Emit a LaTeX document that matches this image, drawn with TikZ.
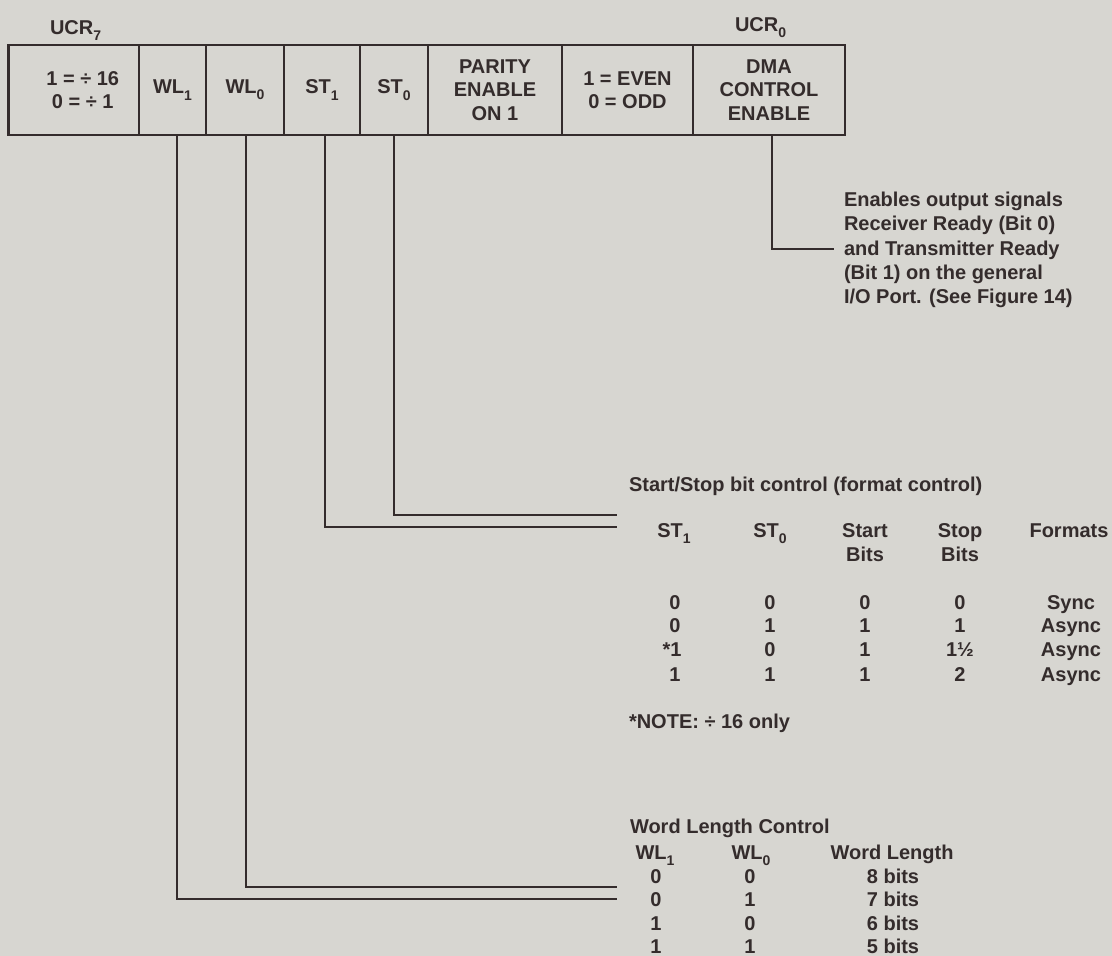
\documentclass[tikz,border=0pt]{standalone}
\usepackage{fontspec}
\setmainfont{Liberation Sans}
\definecolor{bg}{RGB}{215,214,209}
\definecolor{ink}{RGB}{52,44,44}
\newcommand\sbs[1]{\raisebox{-0.6ex}{\fontsize{14}{14}\selectfont #1}}
\begin{document}
\begin{tikzpicture}[x=1pt,y=-1pt,
  every node/.style={text=ink, inner sep=0pt, outer sep=0pt,
    font=\fontsize{20}{23.5}\selectfont\bfseries},
  cell/.style={draw=ink, line width=2.2pt, minimum height=90pt, anchor=north west, align=center},
  wire/.style={draw=ink, line width=2.2pt},
  lbl/.style={anchor=base west},
  col/.style={anchor=base}]
\fill[bg] (0,0) rectangle (1112,956);
\useasboundingbox (0,0) rectangle (1112,956);

% register labels
\node[lbl] (ucr7) at (50,34) {UCR\sbs{7}};
\node[lbl] (ucr0) at (735,31) {UCR\sbs{0}};

% register cells
\node[cell, minimum width=130.5pt] (c1) at (8.5,45) {\hspace*{18pt}1 = ÷ 16\\\hspace*{18pt}0 = ÷ 1};
\node[cell, minimum width=67pt] (c2) at (139,45) {WL\sbs{1}};
\node[cell, minimum width=78pt] (c3) at (206,45) {WL\sbs{0}};
\node[cell, minimum width=76pt] (c4) at (284,45) {ST\sbs{1}};
\node[cell, minimum width=68pt] (c5) at (360,45) {ST\sbs{0}};
\node[cell, minimum width=134pt] (c6) at (428,45) {PARITY\\ENABLE\\ON 1};
\node[cell, minimum width=131pt] (c7) at (562,45) {1 = EVEN\\0 = ODD};
\node[cell, minimum width=152pt] (c8) at (693,45) {DMA\\CONTROL\\ENABLE};

% connector end points
\coordinate (eDMA) at (834,249);
\coordinate (eST0) at (617,515);
\coordinate (eST1) at (617,527);
\coordinate (eWL0) at (617,887);
\coordinate (eWL1) at (617,899);

\draw[wire] ([xshift=3pt]c8.south) |- (eDMA);
\draw[wire] (c5.south) |- (eST0);
\draw[wire] ([xshift=3pt]c4.south) |- (eST1);
\draw[wire] ([xshift=1pt]c3.south) |- (eWL0);
\draw[wire] ([xshift=4.5pt]c2.south) |- (eWL1);

% DMA description
\node[anchor=north west, align=left, font=\fontsize{20}{24.3}\selectfont\bfseries] (dma) at (844,192)
  {Enables output signals\\Receiver Ready (Bit 0)\\and Transmitter Ready\\(Bit 1) on the general\\I/O Port. (See Figure 14)};

% Start/Stop table
\node[lbl] (sstitle) at (629,491) {Start/Stop bit control (format control)};
\node[col] (h1) at (674,537) {ST\sbs{1}};
\node[col] (h2) at (770,537) {ST\sbs{0}};
\node[col] (h3) at (865,537) {Start};
\node[col] (h3b) at (865,561) {Bits};
\node[col] (h4) at (960,537) {Stop};
\node[col] (h4b) at (960,561) {Bits};
\node[col] (h5) at (1069,537) {Formats};

\node[col] (r1a) at (675,609) {0};
\node[col] (r1b) at (770,609) {0};
\node[col] (r1c) at (865,609) {0};
\node[col] (r1d) at (960,609) {0};
\node[col] (r1e) at (1071,609) {Sync};
\node[col] (r2a) at (675,632) {0};
\node[col] (r2b) at (770,632) {1};
\node[col] (r2c) at (865,632) {1};
\node[col] (r2d) at (960,632) {1};
\node[col] (r2e) at (1071,632) {Async};
\node[col] (r3a) at (672,656) {*1};
\node[col] (r3b) at (770,656) {0};
\node[col] (r3c) at (865,656) {1};
\node[col] (r3d) at (960,656) {1½};
\node[col] (r3e) at (1071,656) {Async};
\node[col] (r4a) at (675,681) {1};
\node[col] (r4b) at (770,681) {1};
\node[col] (r4c) at (865,681) {1};
\node[col] (r4d) at (960,681) {2};
\node[col] (r4e) at (1071,681) {Async};
\node[lbl] (note) at (629,728) {*NOTE: ÷ 16 only};

% Word length table
\node[lbl] (wltitle) at (630,833) {Word Length Control};
\node[col] (w1) at (655,859) {WL\sbs{1}};
\node[col] (w2) at (751,859) {WL\sbs{0}};
\node[col] (w3) at (892,859) {Word Length};
\node[col] (wa1) at (656,883) {0};
\node[col] (wb1) at (750,883) {0};
\node[col] (wc1) at (893,883) {8 bits};
\node[col] (wa2) at (656,906) {0};
\node[col] (wb2) at (750,906) {1};
\node[col] (wc2) at (893,906) {7 bits};
\node[col] (wa3) at (656,930) {1};
\node[col] (wb3) at (750,930) {0};
\node[col] (wc3) at (893,930) {6 bits};
\node[col] (wa4) at (656,953) {1};
\node[col] (wb4) at (750,953) {1};
\node[col] (wc4) at (893,953) {5 bits};
\end{tikzpicture}
\end{document}
